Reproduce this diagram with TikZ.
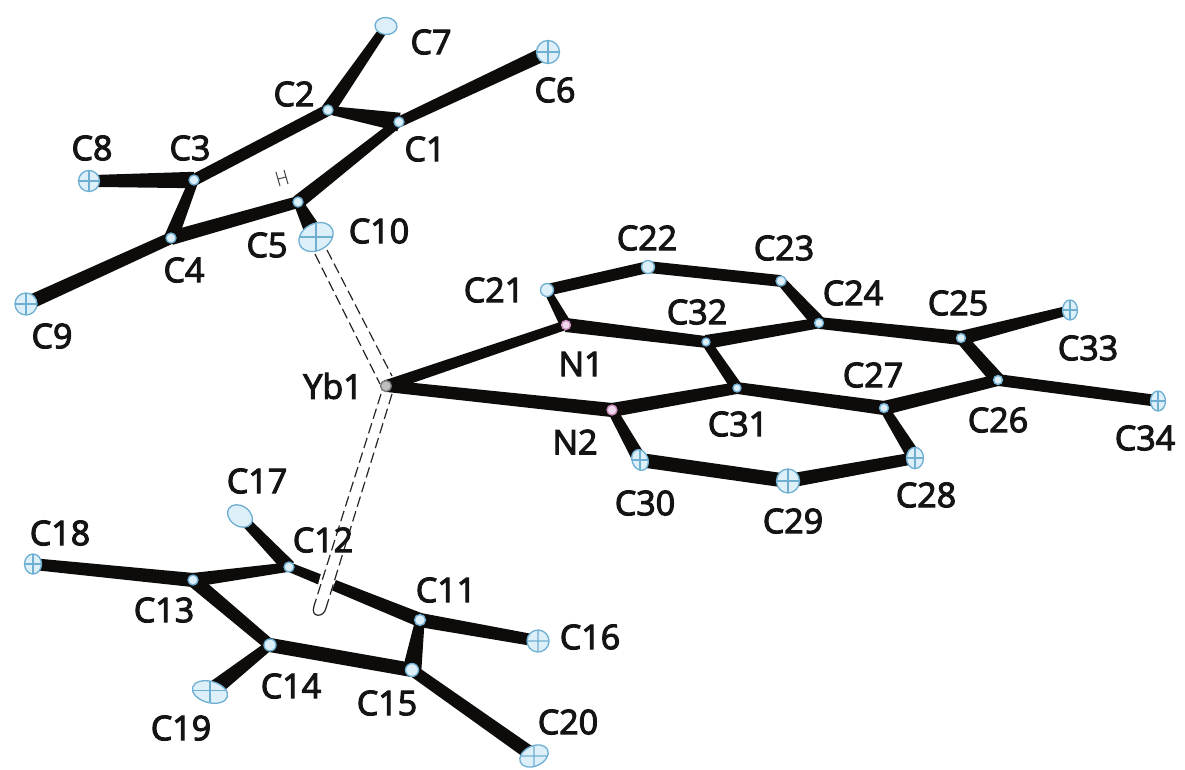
\documentclass[tikz,border=0pt]{standalone}
\usepackage{fontspec}
\setmainfont{Open Sans}[FakeBold=3.2]
\usetikzlibrary{calc,backgrounds,shapes.geometric}
\definecolor{atomline}{HTML}{6FAFD2}
\definecolor{atomfill}{HTML}{DDF0FA}
\definecolor{nline}{HTML}{C98FC0}
\definecolor{nfill}{HTML}{F0D8EC}
\definecolor{bondcol}{HTML}{0E0C0A}
\definecolor{labelcol}{HTML}{141414}
\tikzset{
  atom/.style={ellipse,draw=atomline,fill=atomfill,line width=1pt,inner sep=0pt,minimum width=#1*0.75pt,minimum height=#1*0.75pt},
  oct/.style={path picture={\draw[atomline,line width=.8pt]
     (path picture bounding box.west)--(path picture bounding box.east)
     (path picture bounding box.north)--(path picture bounding box.south);}},
  natom/.style={atom=#1,draw=nline,fill=nfill},
  bond/.style 2 args={bondcol,fill=bondcol,line width=0pt,to path={
     ($(\tikztostart)!#1*0.88pt!90:(\tikztotarget)$) --
     ($(\tikztostart)!#1*0.88pt!-90:(\tikztotarget)$) --
     ($(\tikztotarget)!#2*0.88pt!90:(\tikztostart)$) --
     ($(\tikztotarget)!#2*0.88pt!-90:(\tikztostart)$) -- cycle}},
  lab/.style={text=labelcol,inner sep=0pt,font=\fontsize{25.5}{25.5}\selectfont},
  dashb/.style={draw=black!85,line width=.9pt,dash pattern=on 8pt off 3.5pt},
}
\begin{document}
\begin{tikzpicture}[x=0.75pt,y=-0.75pt]
\useasboundingbox (0,0) rectangle (1185,769);
% atoms
\node[atom=10] (C1) at (399,122) {};
\node[atom=10] (C2) at (328,110) {};
\node[atom=10] (C3) at (194,180) {};
\node[atom=10] (C4) at (171,238) {};
\node[atom=10] (C5) at (298,202) {};
\node[atom=23,oct] (C6) at (548,52) {};
\node[atom=22,minimum height=17pt*0.75,rotate=-5] (C7) at (386,26) {};
\node[atom=21,oct,rotate=0] (C8) at (89,181) {};
\node[atom=22,oct] (C9) at (26,304) {};
\node[atom=36,minimum height=20pt,oct,rotate=28] (C10) at (316,237) {};
\node[atom=11] (C11) at (420,620) {};
\node[atom=10] (C12) at (289,567) {};
\node[atom=10] (C13) at (193,580) {};
\node[atom=12] (C14) at (270,645) {};
\node[atom=13] (C15) at (412,670) {};
\node[atom=22,oct,rotate=40] (C16) at (538,641) {};
\node[atom=27,minimum height=15pt,rotate=-35] (C17) at (240,516) {};
\node[atom=17,minimum height=20pt*0.75,oct] (C18) at (33,564) {};
\node[atom=36,minimum height=16pt,oct,rotate=-15] (C19) at (210,692) {};
\node[atom=30,minimum height=15pt,rotate=25,oct] (C20) at (534,756) {};
\node[atom=13] (C21) at (547,290) {};
\node[atom=13] (C22) at (648,267) {};
\node[atom=10] (C23) at (781,281) {};
\node[atom=9] (C24) at (819,323) {};
\node[atom=9] (C25) at (961,338) {};
\node[atom=9] (C26) at (998,380) {};
\node[atom=9] (C27) at (884,408) {};
\node[atom=17,minimum height=16pt,oct] (C28) at (915,458) {};
\node[atom=23,minimum height=18pt,oct] (C29) at (788,481) {};
\node[atom=16,minimum height=16pt,oct,rotate=20] (C30) at (640,460) {};
\node[atom=8] (C31) at (737,388) {};
\node[atom=8] (C32) at (706,342) {};
\node[atom=15,minimum height=15pt,oct] (C33) at (1070,310) {};
\node[atom=15,minimum height=15pt,oct] (C34) at (1158,401) {};
\node[natom=9] (N1) at (566,325) {};
\node[natom=10] (N2) at (612,410) {};
\node[atom=11,draw=black!55,fill=black!25] (Yb1) at (386,386) {};
\coordinate (E1) at (315,254);
\coordinate (E2) at (327,250);
\coordinate (Y1) at (380,384);
\coordinate (Y2) at (392,376);
\coordinate (Y3) at (381,394);
\coordinate (Y4) at (392,394);
\coordinate (D1) at (314,606);
\coordinate (D2) at (326,608);
% bonds under the atoms
\begin{pgfonlayer}{background}
\path[bond={4.5}{6}] (C1) to (C6);
\path[bond={8}{3.5}] (C1) to (C2);
\path[bond={6}{3.5}] (C2) to (C7);
\path[bond={5}{5}] (C2) to (C3);
\path[bond={4}{6}] (C1) to (C5);
\path[bond={7}{5}] (C3) to (C8);
\path[bond={4}{6}] (C3) to (C4);
\path[bond={6}{5}] (C4) to (C5);
\path[bond={5}{6}] (C4) to (C9);
\path[bond={4}{8}] (C5) to (C10);
\path[bond={5}{4}] (Yb1) to (N1);
\path[bond={5}{6}] (Yb1) to (N2);
\path[bond={5}{3}] (N1) to (C21);
\path[bond={5}{5}] (C21) to (C22);
\path[bond={5}{5}] (C22) to (C23);
\path[bond={4}{6}] (C23) to (C24);
\path[bond={4.5}{6}] (C24) to (C32);
\path[bond={5}{6}] (C32) to (N1);
\path[bond={5}{6}] (C24) to (C25);
\path[bond={6}{4}] (C25) to (C33);
\path[bond={5}{6}] (C25) to (C26);
\path[bond={5}{5}] (C26) to (C34);
\path[bond={5}{6}] (C26) to (C27);
\path[bond={6}{5}] (C27) to (C31);
\path[bond={5}{4}] (C31) to (C32);
\path[bond={5}{6}] (C31) to (N2);
\path[bond={4}{6}] (N2) to (C30);
\path[bond={6}{6}] (C30) to (C29);
\path[bond={6}{5}] (C29) to (C28);
\path[bond={6}{4}] (C28) to (C27);
\path[bond={6}{4}] (C11) to (C12);
\path[bond={6}{5}] (C11) to (C16);
\path[bond={4}{8}] (C11) to (C15);
\path[bond={4}{6}] (C12) to (C13);
\path[bond={6}{4}] (C12) to (C17);
\path[bond={6}{5}] (C13) to (C18);
\path[bond={6}{5}] (C13) to (C14);
\path[bond={6}{6}] (C14) to (C15);
\path[bond={4}{7}] (C14) to (C19);
\path[bond={5}{6}] (C15) to (C20);
\end{pgfonlayer}
% dummy end in the upper ring
\draw[black!70,line width=.8pt] (276,172)--(280,186) (284,170)--(288,184) (278,179)--(286,177);
% dashed centroid bonds
\draw[dashb] (E1) -- (Y1);
\draw[dashb] (E2) -- (Y2);
\fill[white] (322,570) -- (338,574) -- (326,606) -- (313,603) -- cycle;
\draw[dashb] (Y3) -- (D1);
\draw[dashb] (Y4) -- (D2);
\draw[black!85,line width=.9pt] (D1) .. controls (310,618) and (324,618) .. (D2);
% labels
\node[lab] (L1) at (425,149) {C1};
\node[lab] (L2) at (294,94) {C2};
\node[lab] (L3) at (190,148) {C3};
\node[lab] (L4) at (184,270) {C4};
\node[lab] (L5) at (267,245) {C5};
\node[lab] (L6) at (555,90) {C6};
\node[lab] (L7) at (431,42) {C7};
\node[lab] (L8) at (92,148) {C8};
\node[lab] (L9) at (52,336) {C9};
\node[lab] (L10) at (379,231) {C10};
\node[lab] (L11) at (446,590) {C11};
\node[lab] (L12) at (323,540) {C12};
\node[lab] (L13) at (164,610) {C13};
\node[lab] (L14) at (291,686) {C14};
\node[lab] (L15) at (387,703) {C15};
\node[lab] (L16) at (590,637) {C16};
\node[lab] (L17) at (257,481) {C17};
\node[lab] (L18) at (60,533) {C18};
\node[lab] (L19) at (181,728) {C19};
\node[lab] (L20) at (568,722) {C20};
\node[lab] (L21) at (494,290) {C21};
\node[lab] (L22) at (647,238) {C22};
\node[lab] (L23) at (784,248) {C23};
\node[lab] (L24) at (853,293) {C24};
\node[lab] (L25) at (958,303) {C25};
\node[lab] (L26) at (998,420) {C26};
\node[lab] (L27) at (873,375) {C27};
\node[lab] (L28) at (926,495) {C28};
\node[lab] (L29) at (793,521) {C29};
\node[lab] (L30) at (645,503) {C30};
\node[lab] (L31) at (738,424) {C31};
\node[lab] (L32) at (697,312) {C32};
\node[lab] (L33) at (1088,348) {C33};
\node[lab] (L34) at (1145,438) {C34};
\node[lab] (LN1) at (581,364) {N1};
\node[lab] (LN2) at (575,442) {N2};
\node[lab] (LYb) at (333,386) {Yb1};
\end{tikzpicture}
\end{document}
